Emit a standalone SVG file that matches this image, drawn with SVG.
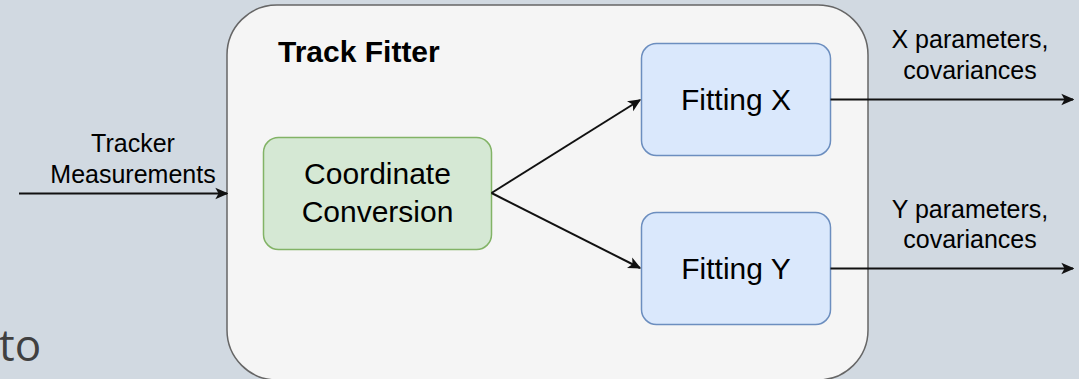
<svg xmlns="http://www.w3.org/2000/svg" width="1079" height="379" viewBox="0 0 1079 379">
  <style>
    .lbl { font-family: "Liberation Sans", Arial, sans-serif; fill: #000; text-anchor: middle; }
    .node { font-size: 30px; }
    .edge-lbl { font-size: 25px; }
    .title { font-size: 30px; font-weight: bold; text-anchor: start; }
    .conn { stroke: #111; stroke-width: 2; fill: none; marker-end: url(#arrow); }
  </style>
  <defs>
    <marker id="arrow" viewBox="0 0 10 10" refX="9" refY="5" markerWidth="13" markerHeight="13" markerUnits="userSpaceOnUse" orient="auto">
      <path d="M0,0.5 L10,5 L0,9.5 L2.5,5 Z" fill="#111"/>
    </marker>
  </defs>

  <!-- page background -->
  <rect width="1079" height="379" fill="#d1d9e1"/>
  <text x="-1" y="361" font-family="'Open Sans', sans-serif" font-size="44" fill="#404040">to</text>

  <!-- container -->
  <g id="track-fitter">
    <rect x="227" y="5" width="641" height="375" rx="50" ry="50" fill="#f5f5f5" stroke="#666" stroke-width="1.5"/>
    <text class="lbl title" x="278" y="62">Track Fitter</text>
  </g>

  <g id="coordinate-conversion">
    <rect x="263.5" y="137.5" width="228" height="112" rx="15" fill="#d5e8d4" stroke="#82b366" stroke-width="1.5"/>
    <text class="lbl node" x="377.5" y="184">Coordinate</text>
    <text class="lbl node" x="377.5" y="222">Conversion</text>
  </g>

  <g id="fitting-x">
    <rect x="641.5" y="43.5" width="189" height="112" rx="15" fill="#dae8fc" stroke="#6c8ebf" stroke-width="1.5"/>
    <text class="lbl node" x="736" y="110">Fitting X</text>
  </g>

  <g id="fitting-y">
    <rect x="641.5" y="212.5" width="189" height="112" rx="15" fill="#dae8fc" stroke="#6c8ebf" stroke-width="1.5"/>
    <text class="lbl node" x="736" y="279">Fitting Y</text>
  </g>

  <!-- connectors -->
  <g id="connectors">
    <path class="conn" d="M19,193.5 L227,193.5"/>
    <path class="conn" d="M491.5,193 L640,100"/>
    <path class="conn" d="M491.5,193 L640,268"/>
    <path class="conn" d="M830.5,99.5 L1073,99.5"/>
    <path class="conn" d="M830.5,268.5 L1073,268.5"/>
    <text class="lbl edge-lbl" x="133" y="152">Tracker</text>
    <text class="lbl edge-lbl" x="133" y="183">Measurements</text>
    <text class="lbl edge-lbl" x="970" y="48">X parameters,</text>
    <text class="lbl edge-lbl" x="970" y="79">covariances</text>
    <text class="lbl edge-lbl" x="970" y="218">Y parameters,</text>
    <text class="lbl edge-lbl" x="970" y="248">covariances</text>
  </g>
</svg>
